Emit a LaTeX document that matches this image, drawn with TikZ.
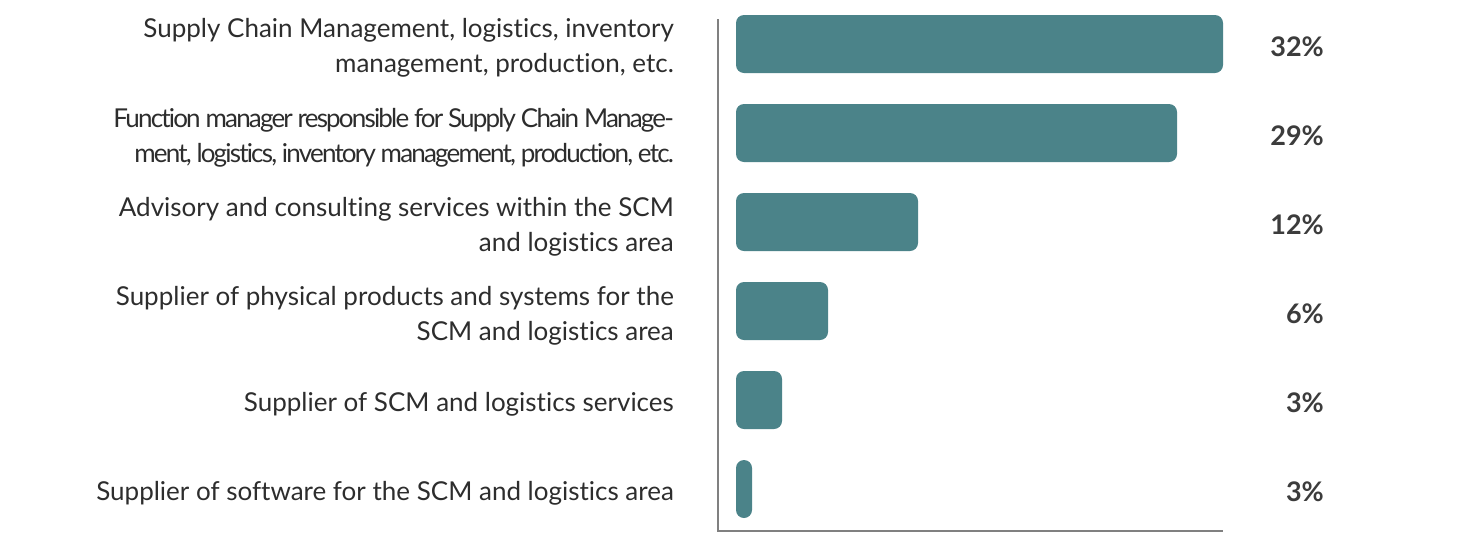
\documentclass[tikz,border=0pt]{standalone}
\usepackage{fontspec}
\setmainfont{Lato}[Ligatures=NoCommon]
\usetikzlibrary{positioning}
\definecolor{barteal}{RGB}{75,131,137}
\definecolor{labelgray}{RGB}{45,45,45}
\definecolor{pctgray}{RGB}{60,60,60}
\definecolor{axisgray}{RGB}{128,128,128}

\begin{document}
\begin{tikzpicture}[
  x=1pt, y=-1pt,
  every node/.style={font=\fontsize{26}{35}\selectfont, text=labelgray},
  barbox/.style={fill=barteal, rounded corners=8pt},
  catlabel/.style={anchor=east, align=right, inner sep=0pt},
  pctlabel/.style={anchor=east, inner sep=0pt, text=pctgray,
                   font=\fontsize{27}{30}\selectfont\bfseries}
]
\useasboundingbox (0,0) rectangle (1470,539);

% ---- Axes ----
\coordinate (axtop) at (718,19);
\coordinate (axorigin) at (718,531);
\coordinate (axright) at (1223,531);
\draw[axisgray, line width=1.5pt] (axtop) -- (axorigin) -- (axright);

% ---- Bars and values ----
\foreach \y/\r/\p [count=\i] in {44/1223/32, 133/1177/29, 222/918/12,
                                 311/828/6, 400/782/3, 489/752/3} {
  \fill[barbox] (736,{\y-29}) rectangle (\r,{\y+29});
  \node[pctlabel] (pct\i) at (1324,{\y+3}) {\p\%};
}

% ---- Category labels ----
\node[catlabel] (cat1) at (674,48)
  {Supply Chain Management, logistics, inventory\\management, production, etc.};
\node[catlabel, font=\fontsize{26}{35}\selectfont\addfontfeature{LetterSpace=-7}] (cat2) at (674,138)
  {Function manager responsible for Supply Chain Manage-\\ment, logistics, inventory management, production, etc.};
\node[catlabel] (cat3) at (674,227)
  {Advisory and consulting services within the SCM\\and logistics area};
\node[catlabel] (cat4) at (674,316)
  {Supplier of physical products and systems for the\\SCM and logistics area};
\node[catlabel] (cat5) at (674,404)
  {Supplier of SCM and logistics services};
\node[catlabel] (cat6) at (674,493)
  {Supplier of software for the SCM and logistics area};

\end{tikzpicture}
\end{document}
